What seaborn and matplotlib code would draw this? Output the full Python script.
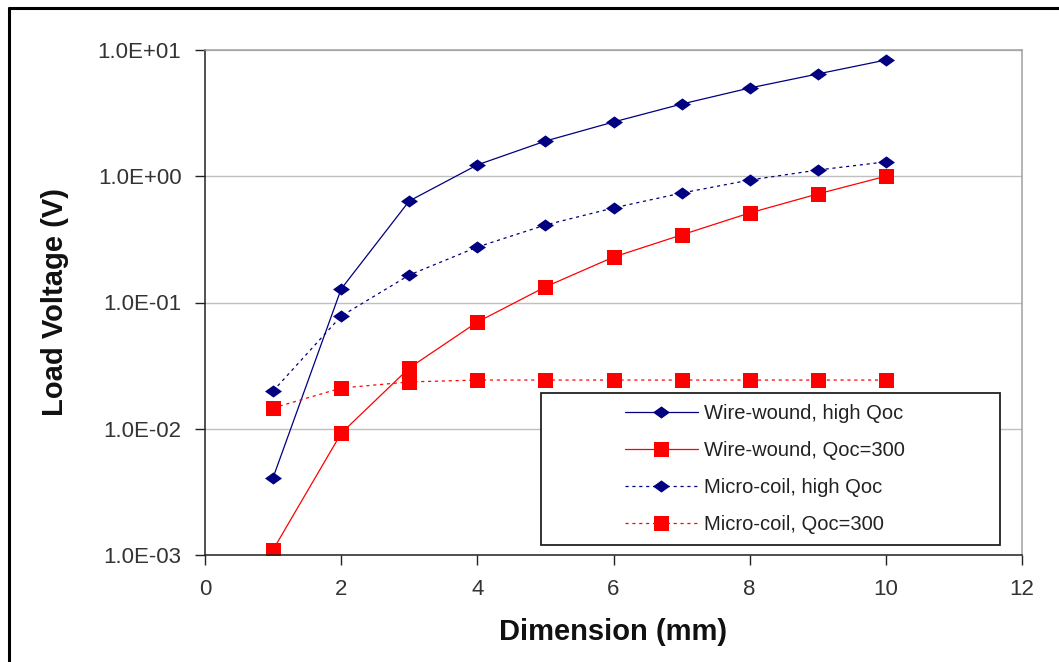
import numpy as np
import pandas as pd
import matplotlib
matplotlib.use("Agg")
import matplotlib.pyplot as plt
from matplotlib.lines import Line2D
from matplotlib.patches import Rectangle
from matplotlib.ticker import FixedLocator, FuncFormatter, NullLocator
import seaborn as sns

# ---- data ----
dimension = [1, 2, 3, 4, 5, 6, 7, 8, 9, 10]
wire_high = [0.0041, 0.128, 0.637, 1.23, 1.90, 2.69, 3.73, 5.0, 6.46, 8.33]
wire_300 = [0.0011, 0.0092, 0.0303, 0.070, 0.133, 0.229, 0.343, 0.512, 0.724, 1.0]
micro_high = [0.0199, 0.078, 0.165, 0.275, 0.411, 0.561, 0.736, 0.933, 1.12, 1.30]
micro_300 = [0.0146, 0.021, 0.0235, 0.0243, 0.0243, 0.0243, 0.0243, 0.0243, 0.0243, 0.0243]
series_names = ["Wire-wound, high Qoc", "Wire-wound, Qoc=300",
                "Micro-coil, high Qoc", "Micro-coil, Qoc=300"]
x_ticks = [0, 2, 4, 6, 8, 10, 12]
y_ticks = [1e-3, 1e-2, 1e-1, 1e0, 1e1]

sns.set_theme(style="white")
plt.rcParams["font.family"] = ["Liberation Sans", "DejaVu Sans"]

fig = plt.figure(figsize=(10.59, 6.62), dpi=100)
ax = fig.add_axes([205 / 1059, 1 - 555 / 662, (1022 - 205) / 1059, (555 - 50) / 662])

navy = "#000080"
red = "#FF0000"
diamond = [(-1, 0), (0, 0.72), (1, 0), (0, -0.72), (-1, 0)]

styles = [
    dict(color=navy, linestyle="-", marker=diamond, markersize=12.2),
    dict(color=red, linestyle="-", marker="s", markersize=10.8),
    dict(color=navy, linestyle=(0, (2.5, 3)), marker=diamond, markersize=12.2),
    dict(color=red, linestyle=(0, (2.5, 3)), marker="s", markersize=10.8),
]
values = [wire_high, wire_300, micro_high, micro_300]

handles = []
for name, vals, st in zip(series_names, values, styles):
    df = pd.DataFrame({"Dimension": dimension, "Voltage": vals})
    sns.lineplot(data=df, x="Dimension", y="Voltage", ax=ax, color=st["color"],
                 linestyle=st["linestyle"], linewidth=0.9, marker=st["marker"],
                 markersize=st["markersize"], markeredgewidth=0,
                 markerfacecolor=st["color"], estimator=None, sort=False)
    handles.append(Line2D([], [], color=st["color"], linestyle=st["linestyle"],
                          linewidth=0.9, marker=st["marker"],
                          markersize=st["markersize"], markeredgewidth=0,
                          markerfacecolor=st["color"], label=name))

ax.set_yscale("log")
ax.set_xlim(0, 12)
ax.set_ylim(1e-3, 1e1)
ax.xaxis.set_major_locator(FixedLocator(x_ticks))
ax.yaxis.set_major_locator(FixedLocator(y_ticks))
ax.yaxis.set_minor_locator(NullLocator())
ax.yaxis.set_major_formatter(FuncFormatter(lambda v, p: f"{v:.1E}"))
ax.xaxis.set_major_formatter(FuncFormatter(lambda v, p: f"{int(round(v))}"))

ax.grid(False)
ax.yaxis.grid(True, color="#c0c0c0", linewidth=1.0)
ax.set_axisbelow(True)

for side in ["left", "bottom"]:
    ax.spines[side].set_color("#222222")
    ax.spines[side].set_linewidth(1.1)
for side in ["top", "right"]:
    ax.spines[side].set_color("#a0a0a0")
    ax.spines[side].set_linewidth(1.1)

ax.tick_params(axis="both", which="major", direction="out", length=7, width=1.0,
               color="#222222", labelsize=16, labelcolor="#333333")
ax.tick_params(axis="y", pad=10, left=True)
ax.tick_params(axis="x", pad=10, bottom=True)

ax.set_xlabel("Dimension (mm)", fontsize=21, fontweight="bold", color="#111111")
ax.set_ylabel("Load Voltage (V)", fontsize=21, fontweight="bold", color="#111111")
ax.xaxis.set_label_coords(0.5, -0.124)
ax.yaxis.set_label_coords(-0.167, 0.5)

# legend (entries) + frame
leg = ax.legend(handles=handles, loc="center left",
                bbox_to_anchor=((625 - 205) / 817, (555 - 469) / 505),
                frameon=False, fontsize=14.5, handlelength=3.6, handletextpad=0.3,
                labelspacing=0.9, borderpad=0, borderaxespad=0)
for t in leg.get_texts():
    t.set_color("#222222")
ax.add_patch(Rectangle(((541 - 205) / 817, (555 - 545) / 505),
                       (1000 - 541) / 817, (545 - 393) / 505,
                       transform=ax.transAxes, fill=True, facecolor="white",
                       edgecolor="#222222", linewidth=1.3, zorder=4))
leg.set_zorder(5)

# outer figure frame (left and top visible)
fig.add_artist(Line2D([9 / 1059, 9 / 1059], [-0.01, 1 - 8 / 662],
                      transform=fig.transFigure, color="black", linewidth=2.2))
fig.add_artist(Line2D([9 / 1059, 1.01], [1 - 8 / 662, 1 - 8 / 662],
                      transform=fig.transFigure, color="black", linewidth=2.2))

fig.savefig("out.png", dpi=100, facecolor="white")
